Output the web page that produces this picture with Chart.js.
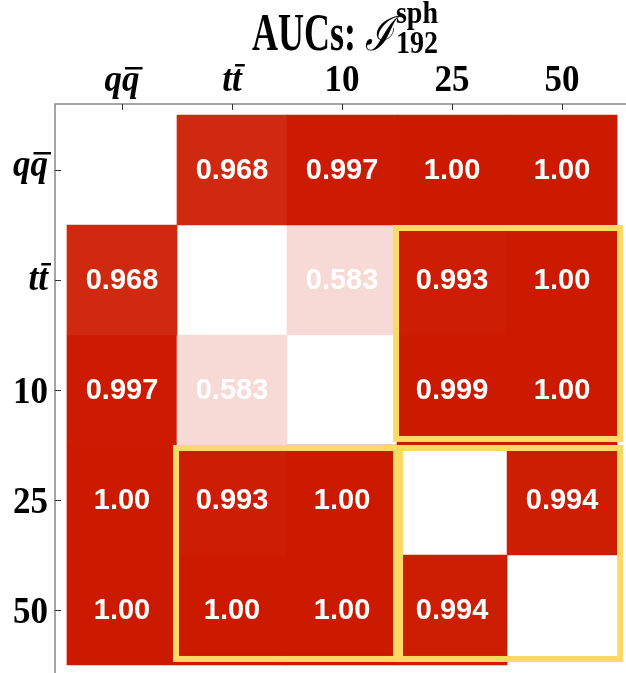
<!DOCTYPE html>
<html>
<head>
<meta charset="utf-8">
<script src="https://cdn.jsdelivr.net/npm/chart.js@4/dist/chart.umd.min.js"></script>
<style>
html, body { margin: 0; padding: 0; background: #fff; }
#wrap { width: 626px; height: 673px; }
</style>
</head>
<body>
<div id="wrap"><canvas id="aucChart"></canvas></div>
<script>
// classes, in the order of rows (top to bottom) and columns (left to right)
var classes = ['qq', 'tt', '10', '25', '50'];
var overlined = [true, true, false, false, false];

// AUC matrix, one row per class (null = diagonal, left blank)
var aucQQ = [null, 0.968, 0.997, 1.00, 1.00];
var aucTT = [0.968, null, 0.583, 0.993, 1.00];
var auc10 = [0.997, 0.583, null, 0.999, 1.00];
var auc25 = [1.00, 0.993, 1.00, null, 0.994];
var auc50 = [1.00, 1.00, 1.00, 0.994, null];
var aucRows = [aucQQ, aucTT, auc10, auc25, auc50];

// highlighted blocks: [firstCol, lastCol] and [firstRow, lastRow]
var boxCols = [[3, 4], [1, 2], [3, 4]];
var boxRows = [[1, 2], [3, 4], [3, 4]];

function cellColor(v) {
    var t = Math.max(0, Math.min(1, (v - 0.5) / 0.5));
    var r = Math.round(255 - (255 - 204) * t);
    var g = Math.round(255 - (255 - 26) * t);
    var b = Math.round(255 - 255 * t);
    return 'rgb(' + r + ',' + g + ',' + b + ')';
}

function fmt(v) {
    return v === 1 ? '1.00' : v.toFixed(3);
}

var datasets = aucRows.map(function (row, r) {
    var pts = [], cols = [];
    row.forEach(function (v, c) {
        if (v === null) return;
        pts.push({ x: c, y: [r - 0.5, r + 0.5], v: v });
        cols.push(cellColor(v));
    });
    return {
        label: classes[r],
        data: pts,
        backgroundColor: cols,
        borderWidth: 0,
        grouped: false,
        barPercentage: 1,
        categoryPercentage: 1
    };
});

var serif = '"Liberation Serif", "DejaVu Serif", serif';
var sans = '"Liberation Sans", Arial, sans-serif';
var LABEL_SY = 1.1;

// text stretched vertically around its baseline
function tallText(ctx, txt, x, y, sy) {
    ctx.save();
    ctx.translate(x, y);
    ctx.scale(1, sy);
    ctx.fillText(txt, 0, 0);
    ctx.restore();
}

function drawClassLabel(ctx, i, x, y, align) {
    var txt = classes[i];
    var isQ = txt.charAt(0) === 'q';
    ctx.font = (overlined[i] ? 'italic ' : '') + 'bold 35px ' + serif;
    ctx.textAlign = 'left';
    ctx.textBaseline = 'alphabetic';
    var m = ctx.measureText(txt);
    var w = m.width;
    // how far the baseline sits below the row centre on the left axis
    var drop = overlined[i] ? (isQ ? 6 : 10) : m.actualBoundingBoxAscent * LABEL_SY / 2;
    var x0 = align === 'center' ? x - w / 2 : x - w;
    var base = align === 'center' ? y : y + drop;
    tallText(ctx, txt, x0, base, LABEL_SY);
    if (overlined[i]) {
        var w1 = ctx.measureText(txt.charAt(0)).width;
        var oy = isQ ? 24 : 27;
        ctx.fillRect(x0 + w1 + 3, base - oy, w - w1, 2.5);
    }
}

var overlay = {
    id: 'overlay',
    afterDatasetsDraw: function (chart) {
        var ctx = chart.ctx;
        var xs = chart.scales.x, ys = chart.scales.y;
        var area = chart.chartArea;
        ctx.save();

        // cell values
        ctx.fillStyle = '#fff';
        ctx.font = 'bold 29px ' + sans;
        ctx.textAlign = 'center';
        ctx.textBaseline = 'middle';
        chart.data.datasets.forEach(function (ds, di) {
            chart.getDatasetMeta(di).data.forEach(function (bar, j) {
                var cy = (bar.y + bar.base) / 2;
                ctx.fillText(fmt(ds.data[j].v), bar.x, cy + 1);
            });
        });

        // highlighted blocks
        ctx.strokeStyle = '#ffd966';
        ctx.lineWidth = 6;
        boxCols.forEach(function (bc, k) {
            var br = boxRows[k];
            var x0 = xs.getPixelForValue(bc[0] - 0.5) - 1;
            var x1 = xs.getPixelForValue(bc[1] + 0.5) + 3;
            var y0 = ys.getPixelForValue(br[0] - 0.5) + 3;
            var y1 = ys.getPixelForValue(br[1] + 0.5) - 6;
            ctx.strokeRect(x0, y0, x1 - x0, y1 - y0);
        });

        // frame (left and top) with inward ticks
        ctx.strokeStyle = '#888';
        ctx.lineWidth = 1.5;
        ctx.beginPath();
        ctx.moveTo(area.left, area.bottom);
        ctx.lineTo(area.left, area.top);
        ctx.lineTo(area.right, area.top);
        ctx.stroke();
        ctx.strokeStyle = '#333';
        ctx.lineWidth = 1;
        ctx.beginPath();
        classes.forEach(function (c, i) {
            var px = Math.round(xs.getPixelForValue(i)) + 0.5;
            ctx.moveTo(px, area.top);
            ctx.lineTo(px, area.top + 6);
            var py = Math.round(ys.getPixelForValue(i)) + 0.5;
            ctx.moveTo(area.left, py);
            ctx.lineTo(area.left + 6, py);
        });
        ctx.stroke();

        // tick labels
        ctx.fillStyle = '#000';
        classes.forEach(function (c, i) {
            drawClassLabel(ctx, i, xs.getPixelForValue(i), area.top - 13, 'center');
            drawClassLabel(ctx, i, area.left - 7, ys.getPixelForValue(i), 'right');
        });

        // title: AUCs: I^sph_192
        ctx.textAlign = 'left';
        ctx.textBaseline = 'alphabetic';
        ctx.font = 'bold 36px ' + serif;
        var part1 = 'AUCs: ';
        var w1 = ctx.measureText(part1).width;
        ctx.font = 'italic 38px "DejaVu Serif", serif';
        var w2 = ctx.measureText('\u2110').width;
        ctx.font = 'bold 28px ' + serif;
        var w3 = Math.max(ctx.measureText('sph').width, ctx.measureText('192').width);
        var tx = 345 - (w1 + w2 + 3 + w3) / 2;
        var ty = 50;
        ctx.font = 'bold 36px ' + serif;
        tallText(ctx, part1, tx, ty, 1.45);
        ctx.font = 'italic 38px "DejaVu Serif", serif';
        tallText(ctx, '\u2110', tx + w1, ty, 1.25);
        ctx.font = 'bold 28px ' + serif;
        tallText(ctx, 'sph', tx + w1 + w2 + 3, ty - 27, 1.1);
        tallText(ctx, '192', tx + w1 + w2 + 3, ty + 3, 1.1);

        ctx.restore();
    }
};

new Chart(document.getElementById('aucChart'), {
    type: 'bar',
    data: { datasets: datasets },
    options: {
        responsive: true,
        maintainAspectRatio: false,
        animation: false,
        layout: { padding: { left: 55, top: 104, right: 0, bottom: 0 } },
        plugins: { legend: { display: false }, tooltip: { enabled: false }, title: { display: false } },
        scales: {
            x: {
                type: 'linear', display: false, min: -0.609, max: 4.581, offset: false,
                afterBuildTicks: function (axis) {
                    axis.ticks = classes.map(function (c, i) { return { value: i }; });
                }
            },
            y: {
                type: 'linear', display: false, reverse: true, min: -0.6, max: 4.573,
                afterBuildTicks: function (axis) {
                    axis.ticks = classes.map(function (c, i) { return { value: i }; });
                }
            }
        }
    },
    plugins: [overlay]
});
</script>
</body>
</html>
